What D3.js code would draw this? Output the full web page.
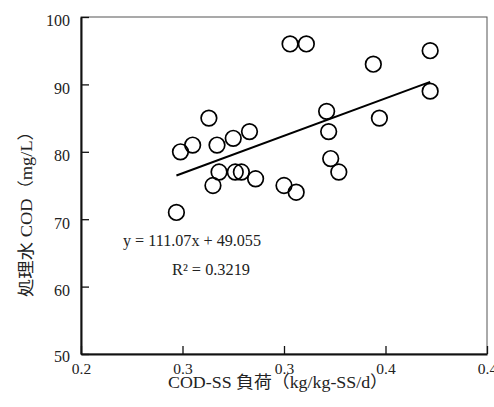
<!DOCTYPE html>
<html>
<head>
<meta charset="utf-8">
<script src="https://cdn.jsdelivr.net/npm/d3@7"></script>
<style>
  body { margin: 0; background: #fff; }
  text { font-family: "Liberation Serif", "Noto Sans CJK JP", serif; fill: #222; }
</style>
</head>
<body>
<script>
'use strict';

var width = 494,
    height = 407,
    margin = {top: 17, right: 4, bottom: 53, left: 81};

// COD-SS load (kg/kg-SS/d)
var loadX = [0.247, 0.249, 0.255, 0.263, 0.267, 0.265, 0.268, 0.275, 0.276, 0.279,
             0.283, 0.286, 0.300, 0.306, 0.303, 0.311, 0.321, 0.322, 0.323, 0.327,
             0.344, 0.347, 0.372, 0.372];
// treated water COD (mg/L)
var codY = [71, 80, 81, 85, 81, 75, 77, 82, 77, 77,
            83, 76, 75, 74, 96, 96, 86, 83, 79, 77,
            93, 85, 95, 89];

var xTicks = [0.2, 0.25, 0.3, 0.35, 0.4],
    xTickLabels = ["0.2", "0.3", "0.3", "0.4", "0.4"],
    yTicks = [50, 60, 70, 80, 90, 100];

var slope = 111.07,
    intercept = 49.055,
    eqLabel = "y = 111.07x + 49.055",
    r2Label = "R² = 0.3219",
    xTitle = "COD-SS 負荷（kg/kg-SS/d）",
    yTitle = "処理水 COD（mg/L）";

var x = d3.scaleLinear().domain([0.2, 0.4]).range([margin.left, width - margin.right - 3]);
var y = d3.scaleLinear().domain([50, 100]).range([height - margin.bottom, margin.top]);

var svg = d3.select("body").append("svg")
  .attr("width", width)
  .attr("height", height);

// frame (top / right thin)
svg.append("rect")
  .attr("x", x(0.2))
  .attr("y", y(100))
  .attr("width", x(0.4) - x(0.2))
  .attr("height", y(50) - y(100))
  .attr("fill", "none")
  .attr("stroke", "#555")
  .attr("stroke-width", 1);

// axes, ticks inside
var xAxis = svg.append("g")
  .attr("transform", "translate(0," + y(50) + ")")
  .call(d3.axisBottom(x).tickValues(xTicks).tickSize(-8).tickSizeOuter(0)
    .tickFormat(function(d, i) { return xTickLabels[i]; }));
xAxis.select(".domain").attr("stroke", "#111").attr("stroke-width", 2);
xAxis.selectAll(".tick line").attr("stroke", "#111").attr("stroke-width", 1.3);
xAxis.selectAll(".tick text")
  .attr("y", 20)
  .attr("dy", 0)
  .attr("font-size", 15.5);

var yAxis = svg.append("g")
  .attr("transform", "translate(" + x(0.2) + ",0)")
  .call(d3.axisLeft(y).tickValues(yTicks).tickSize(-8).tickSizeOuter(0));
yAxis.select(".domain").attr("stroke", "#111").attr("stroke-width", 2);
yAxis.selectAll(".tick line").attr("stroke", "#111").attr("stroke-width", 1.3);
yAxis.selectAll(".tick text")
  .attr("x", -11)
  .attr("dy", "0.55em")
  .attr("font-size", 16);
yAxis.selectAll(".tick").filter(function(d) { return d === 50; })
  .select("text").attr("dy", "0.45em");

// trendline over data range
var xMin = d3.min(loadX), xMax = d3.max(loadX);
svg.append("line")
  .attr("x1", x(xMin))
  .attr("y1", y(slope * xMin + intercept))
  .attr("x2", x(xMax))
  .attr("y2", y(slope * xMax + intercept))
  .attr("stroke", "#000")
  .attr("stroke-width", 2);

// points
svg.selectAll("circle.pt")
  .data(d3.zip(loadX, codY))
  .enter().append("circle")
  .attr("class", "pt")
  .attr("cx", function(d) { return x(d[0]); })
  .attr("cy", function(d) { return y(d[1]); })
  .attr("r", 7.8)
  .attr("fill", "none")
  .attr("stroke", "#000")
  .attr("stroke-width", 1.7);

// equation
svg.append("text")
  .attr("x", 123)
  .attr("y", 246)
  .attr("font-size", 16)
  .attr("textLength", 138)
  .attr("lengthAdjust", "spacingAndGlyphs")
  .text(eqLabel);
svg.append("text")
  .attr("x", 172)
  .attr("y", 275)
  .attr("font-size", 16)
  .attr("textLength", 78)
  .attr("lengthAdjust", "spacingAndGlyphs")
  .text(r2Label);

// titles
svg.append("text")
  .attr("x", 168)
  .attr("y", 388)
  .attr("font-size", 16.5)
  .attr("textLength", 220)
  .attr("lengthAdjust", "spacingAndGlyphs")
  .text(xTitle);

svg.append("text")
  .attr("transform", "translate(32,297) rotate(-90)")
  .attr("font-size", 16.5)
  .attr("textLength", 175)
  .attr("lengthAdjust", "spacingAndGlyphs")
  .text(yTitle);
</script>
</body>
</html>
